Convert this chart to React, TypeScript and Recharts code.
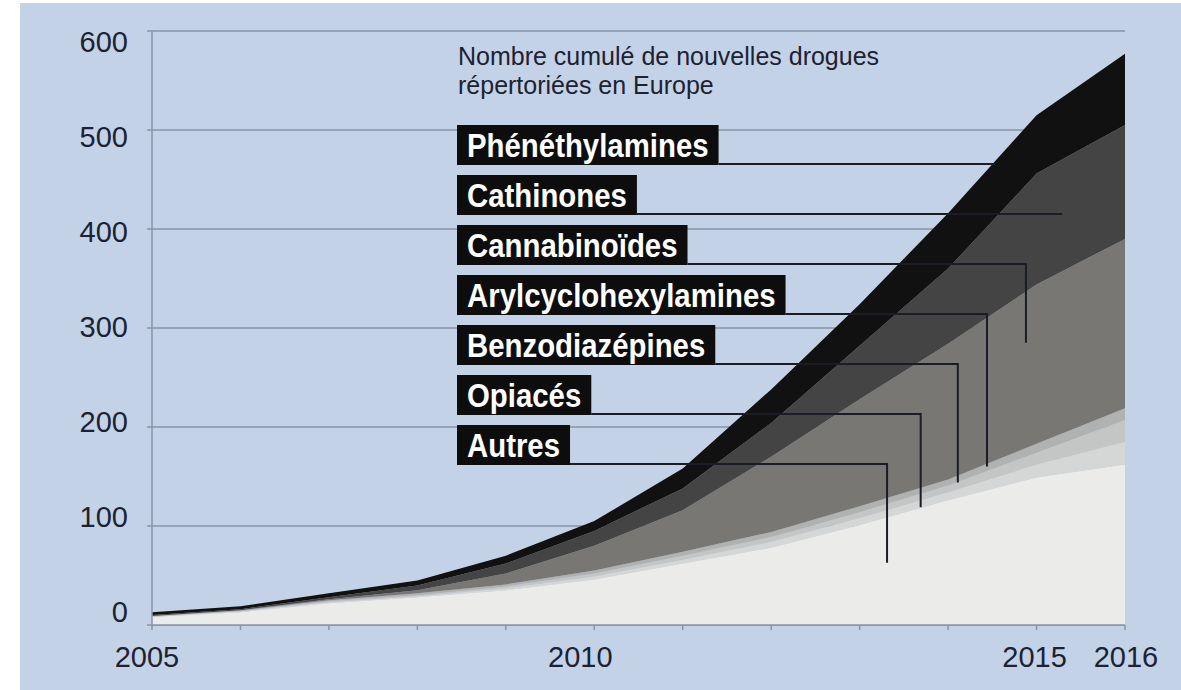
import React from 'react';
import { AreaChart, Area, XAxis, YAxis, CartesianGrid } from 'recharts';

// Cumulative count of new psychoactive substances reported in Europe, per family
const years = [2005, 2006, 2007, 2008, 2009, 2010, 2011, 2012, 2013, 2014, 2015, 2016];
const autres = [8, 13, 22, 28, 35, 46, 62, 78, 101, 126, 149, 162];
const opiaces = [0, 1, 1, 1, 2, 3, 4, 6, 7, 8, 13, 23];
const benzodiazepines = [1, 0, 1, 1, 2, 3, 4, 5, 6, 7, 12, 22];
const arylcyclohexylamines = [0, 1, 1, 2, 2, 3, 4, 5, 6, 6, 9, 12];
const cannabinoides = [0, 0, 1, 3, 11, 25, 42, 76, 108, 137, 161, 171];
const cathinones = [1, 1, 2, 5, 10, 15, 22, 34, 54, 76, 112, 115];
const phenethylamines = [3, 3, 4, 5, 8, 10, 20, 34, 42, 56, 59, 72];

const yTicks = [0, 100, 200, 300, 400, 500, 600];
const labelledYears = [2005, 2010, 2015, 2016];

// bottom to top in the stack
const series = [
  { key: 'autres', name: 'Autres', values: autres, color: '#ebebea' },
  { key: 'opiaces', name: 'Opiacés', values: opiaces, color: '#d5d6d6' },
  { key: 'benzodiazepines', name: 'Benzodiazépines', values: benzodiazepines, color: '#c4c5c5' },
  { key: 'arylcyclohexylamines', name: 'Arylcyclohexylamines', values: arylcyclohexylamines, color: '#b0b1b1' },
  { key: 'cannabinoides', name: 'Cannabinoïdes', values: cannabinoides, color: '#787774' },
  { key: 'cathinones', name: 'Cathinones', values: cathinones, color: '#444444' },
  { key: 'phenethylamines', name: 'Phénéthylamines', values: phenethylamines, color: '#111111' },
];

// where each label's leader line turns (year) and the value it drops down to
const leaders: Record<string, { year: number; drop?: number }> = {
  phenethylamines: { year: 2014.53 },
  cathinones: { year: 2015.29 },
  cannabinoides: { year: 2014.88, drop: 285 },
  arylcyclohexylamines: { year: 2014.44, drop: 160 },
  benzodiazepines: { year: 2014.11, drop: 144 },
  opiaces: { year: 2013.69, drop: 119 },
  autres: { year: 2013.31, drop: 63 },
};

const data = years.map((year, i) => {
  const row: Record<string, number> = { year };
  series.forEach((s) => (row[s.key] = s.values[i]));
  return row;
});

const W = 1181;
const H = 690;
const PLOT = { left: 152, right: 1125, top: 31, bottom: 625 };
const FONT = "'Liberation Sans', Arial, sans-serif";
const INK = '#1c2230';
const GRID = '#8a94a5';
const LABEL_SIZE = 33;
const CONDENSE = 0.89;

const xPx = (yr: number) =>
  PLOT.left + ((yr - years[0]) / (years[years.length - 1] - years[0])) * (PLOT.right - PLOT.left);
const yPx = (v: number) => PLOT.bottom - (v / 600) * (PLOT.bottom - PLOT.top);

let measureCtx: CanvasRenderingContext2D | null = null;
const textWidth = (txt: string, font: string) => {
  if (!measureCtx) measureCtx = document.createElement('canvas').getContext('2d');
  if (!measureCtx) return txt.length * 16;
  measureCtx.font = font;
  return measureCtx.measureText(txt).width;
};

const YTick = (props: any) => {
  const { x, y, payload } = props;
  // the printed numbers sit on a slightly tighter spacing than the grid
  const shift = -13 + ((PLOT.bottom - y) / (PLOT.bottom - PLOT.top)) * 23.5;
  return (
    <text x={x} y={y + shift} dy="0.36em" textAnchor="end" fontFamily={FONT} fontSize={29} fill={INK}>
      {payload.value}
    </text>
  );
};

const nudge: Record<number, number> = { 2005: -5, 2010: -14, 2015: -2, 2016: 1 };

const XTick = (props: any) => {
  const { x, payload } = props;
  if (!labelledYears.includes(payload.value)) return null;
  return (
    <text x={x + (nudge[payload.value] || 0)} y={667} textAnchor="middle" fontFamily={FONT} fontSize={29} fill={INK}>
      {payload.value}
    </text>
  );
};

const Annotations = () => {
  const labelFont = `bold ${LABEL_SIZE}px ${FONT}`;
  const top = [...series].reverse();
  return (
    <svg width={W} height={H} style={{ position: 'absolute', left: 0, top: 0, pointerEvents: 'none' }}>
      <text fontFamily={FONT} fontSize={25} fill={INK}>
        <tspan x={458} y={65}>Nombre cumulé de nouvelles drogues</tspan>
        <tspan x={458} y={94}>répertoriées en Europe</tspan>
      </text>
      {top.map((s, i) => {
        const boxTop = 125 + i * 50;
        const boxLeft = 457;
        const txtW = textWidth(s.name, labelFont) * CONDENSE;
        const boxW = txtW + 20;
        const lineY = boxTop + 39;
        const l = leaders[s.key];
        const xEnd = xPx(l.year);
        return (
          <g key={s.key}>
            <path
              d={`M${boxLeft + boxW},${lineY} H${xEnd}` + (l.drop !== undefined ? ` V${yPx(l.drop)}` : '')}
              fill="none"
              stroke="#1a1d26"
              strokeWidth={2}
            />
            <rect x={boxLeft} y={boxTop} width={boxW} height={40} fill="#0d0d0d" />
            <text
              x={boxLeft + 10}
              y={boxTop + 32}
              fontFamily={FONT}
              fontWeight="bold"
              fontSize={LABEL_SIZE}
              fill="#ffffff"
              textLength={txtW}
              lengthAdjust="spacingAndGlyphs"
            >
              {s.name}
            </text>
          </g>
        );
      })}
    </svg>
  );
};

export default function App() {
  return (
    <div style={{ position: 'absolute', left: 0, top: 0, width: W, height: H, background: '#ffffff', overflow: 'hidden' }}>
      <div style={{ position: 'absolute', left: 20, top: 3, right: 0, bottom: 0, background: '#c4d2e8' }} />
      <div style={{ position: 'absolute', left: 0, top: 0 }}>
        <AreaChart width={W} height={H} data={data} margin={{ top: PLOT.top, right: W - PLOT.right, bottom: 0, left: 0 }}>
          <CartesianGrid vertical={false} stroke={GRID} strokeWidth={1.5} />
          <XAxis
            dataKey="year"
            type="number"
            domain={[2005, 2016]}
            ticks={years}
            interval={0}
            height={H - PLOT.bottom}
            axisLine={{ stroke: GRID, strokeWidth: 1.5 }}
            tickLine={{ stroke: GRID, strokeWidth: 1.5 }}
            tickSize={5}
            tick={<XTick />}
          />
          <YAxis
            type="number"
            domain={[0, 600]}
            ticks={yTicks}
            interval={0}
            width={PLOT.left}
            axisLine={{ stroke: GRID, strokeWidth: 1.5 }}
            tickLine={{ stroke: GRID, strokeWidth: 1.5 }}
            tickSize={5}
            tickMargin={19}
            tick={<YTick />}
          />
          {series.map((s) => (
            <Area
              key={s.key}
              type="linear"
              dataKey={s.key}
              name={s.name}
              stackId="drugs"
              stroke="none"
              fill={s.color}
              fillOpacity={1}
              dot={false}
              activeDot={false}
              isAnimationActive={false}
            />
          ))}
        </AreaChart>
      </div>
      <Annotations />
    </div>
  );
}
